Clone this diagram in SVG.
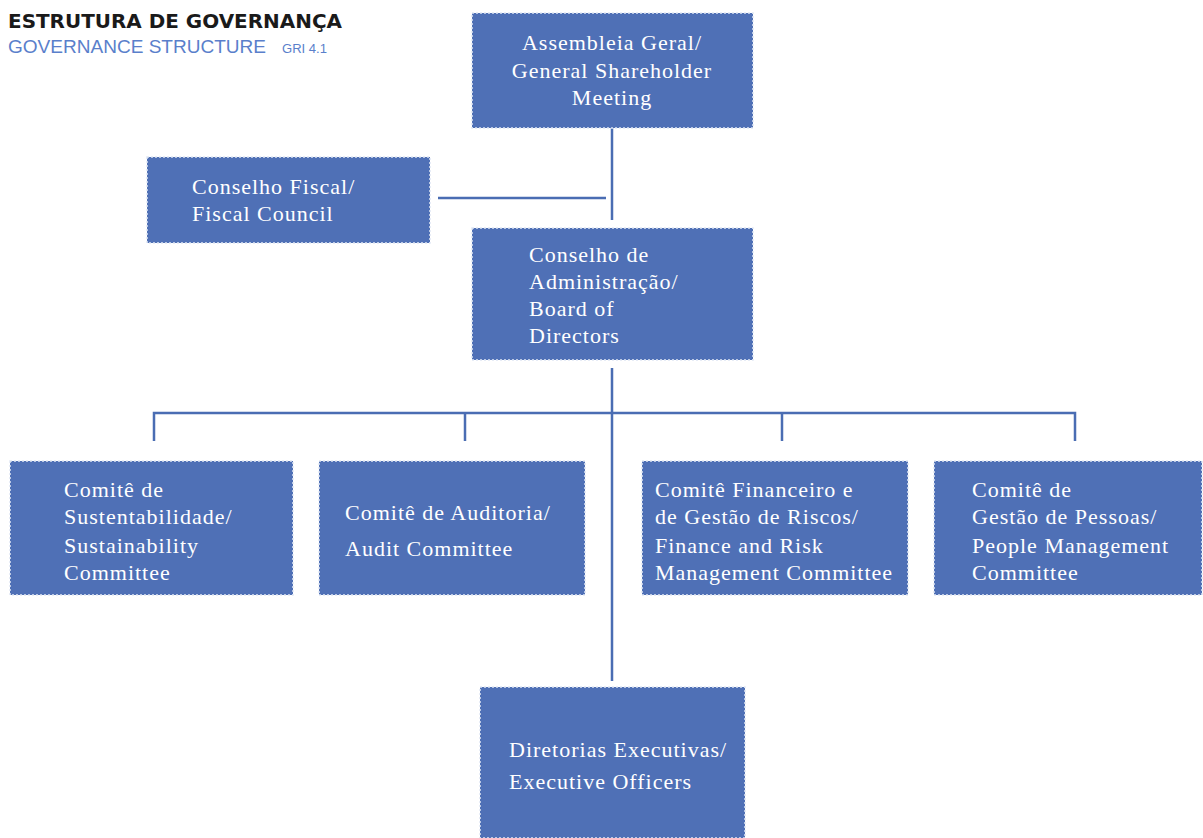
<svg xmlns="http://www.w3.org/2000/svg" width="1203" height="838" viewBox="0 0 1203 838">
<style>
.box{fill:#4f70b6;stroke:#dfe6f3;stroke-width:1.5;stroke-dasharray:2 2}
.t{font-family:"Liberation Serif",serif;font-size:22px;letter-spacing:1px;fill:#ffffff}
.c{text-anchor:middle}
.ln{stroke:#4a6db3;stroke-width:2.5;fill:none}
</style>
<rect width="1203" height="838" fill="#ffffff"/>
<g id="title">
<text x="8" y="28" font-family="'DejaVu Sans',sans-serif" font-weight="bold" font-size="19" fill="#1a1a1a" textLength="334" lengthAdjust="spacingAndGlyphs">ESTRUTURA DE GOVERNANÇA</text>
<text x="8" y="53" font-family="'Liberation Sans',sans-serif" font-size="19" fill="#5a7fcb" textLength="258" lengthAdjust="spacingAndGlyphs">GOVERNANCE STRUCTURE</text>
<text x="282" y="53" font-family="'Liberation Sans',sans-serif" font-size="12" fill="#5a7fcb" textLength="45" lengthAdjust="spacingAndGlyphs">GRI 4.1</text>
</g>
<g id="connectors">
<line class="ln" x1="612" y1="128" x2="612" y2="220"/>
<line class="ln" x1="438" y1="198" x2="606" y2="198"/>
<line class="ln" x1="612" y1="368" x2="612" y2="681"/>
<polyline class="ln" points="154,441 154,413 1075,413 1075,441"/>
<line class="ln" x1="465" y1="413" x2="465" y2="441"/>
<line class="ln" x1="782" y1="413" x2="782" y2="441"/>
</g>
<g id="assembleia">
<rect class="box" x="472" y="13" width="281" height="115"/>
<text class="t c" x="612" y="50">Assembleia Geral/</text>
<text class="t c" x="612" y="78">General Shareholder</text>
<text class="t c" x="612" y="105">Meeting</text>
</g>
<g id="fiscal">
<rect class="box" x="147" y="157" width="283" height="86"/>
<text class="t" x="192" y="194">Conselho Fiscal/</text>
<text class="t" x="192" y="221">Fiscal Council</text>
</g>
<g id="conselho">
<rect class="box" x="472" y="228" width="281" height="132"/>
<text class="t" x="529" y="262">Conselho de</text>
<text class="t" x="529" y="289">Administração/</text>
<text class="t" x="529" y="316">Board of</text>
<text class="t" x="529" y="343">Directors</text>
</g>
<g id="sustentabilidade">
<rect class="box" x="10" y="461" width="283" height="134"/>
<text class="t" x="64" y="497">Comitê de</text>
<text class="t" x="64" y="524">Sustentabilidade/</text>
<text class="t" x="64" y="553">Sustainability</text>
<text class="t" x="64" y="580">Committee</text>
</g>
<g id="auditoria">
<rect class="box" x="319" y="461" width="266" height="134"/>
<text class="t" x="345" y="520">Comitê de Auditoria/</text>
<text class="t" x="345" y="556">Audit Committee</text>
</g>
<g id="financeiro">
<rect class="box" x="642" y="461" width="266" height="134"/>
<text class="t" x="655" y="497">Comitê Financeiro e</text>
<text class="t" x="655" y="524">de Gestão de Riscos/</text>
<text class="t" x="655" y="553">Finance and Risk</text>
<text class="t" x="655" y="580">Management Committee</text>
</g>
<g id="pessoas">
<rect class="box" x="934" y="461" width="268" height="134"/>
<text class="t" x="972" y="497">Comitê de</text>
<text class="t" x="972" y="524">Gestão de Pessoas/</text>
<text class="t" x="972" y="553">People Management</text>
<text class="t" x="972" y="580">Committee</text>
</g>
<g id="diretorias">
<rect class="box" x="480" y="687" width="265" height="151"/>
<text class="t" x="509" y="757">Diretorias Executivas/</text>
<text class="t" x="509" y="789">Executive Officers</text>
</g>
</svg>
